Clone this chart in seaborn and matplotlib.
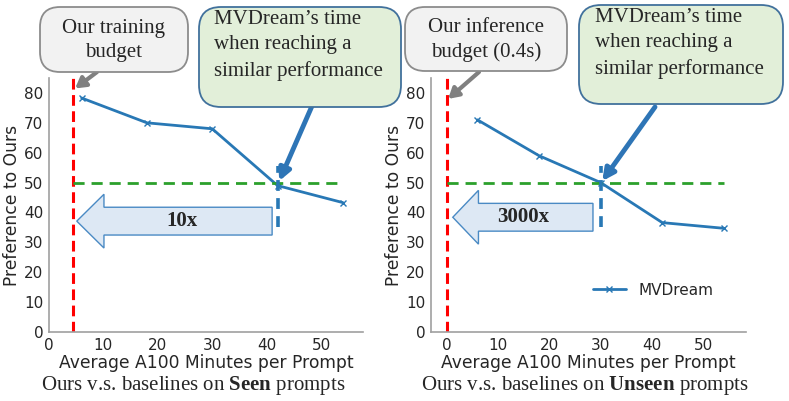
import matplotlib
matplotlib.use("Agg")
import matplotlib.pyplot as plt
import seaborn as sns
from matplotlib.patches import FancyBboxPatch, FancyArrow

# ------------------------------#
# Data
minutes = [6, 18, 30, 42, 54]
seen_pref = [78.3, 70.0, 68.0, 49.0, 43.3]
unseen_pref = [71.0, 59.0, 50.0, 36.6, 34.7]

panel_prefs = [seen_pref, unseen_pref]
budget_x = [4.5, 0.0]  # our training / inference budget (minutes)
match_x = [42, 30]  # where MVDream reaches ~50% preference
speedup = ["10x", "3000x"]
budget_text = ["Our training\nbudget", "Our inference\nbudget (0.4s)"]
mvdream_text = "MVDream\u2019s time\nwhen reaching a\nsimilar performance"
caption_bold = ["Seen", "Unseen"]
xlims = [(0, 57.7), (-3.1, 58.3)]
# ------------------------------#

sns.set_style("white")
plt.rcParams["font.family"] = ["DejaVu Sans"]
plt.rcParams["mathtext.fontset"] = "custom"
plt.rcParams["mathtext.rm"] = "Liberation Serif"
plt.rcParams["mathtext.bf"] = "Liberation Serif:bold"

W, H = 789, 401
fig = plt.figure(figsize=(W / 100, H / 100), dpi=100)

blue = "#2878b5"
serif = "Liberation Serif"


def px_box(x0, y0, x1, y1, fc, ec, r):
    # rounded callout box given in pixel coords (top-left origin)
    patch = FancyBboxPatch(
        (x0 / 100, (H - y1) / 100),
        (x1 - x0) / 100,
        (y1 - y0) / 100,
        boxstyle=f"round,pad=0,rounding_size={r / 100}",
        transform=fig.dpi_scale_trans,
        fc=fc,
        ec=ec,
        lw=1.3,
        zorder=5,
    )
    fig.add_artist(patch)


# axes placement in pixels: (left, right)
ax_px = [(49, 363), (430.7, 746)]
gray_boxes = [(40, 7, 188, 72), (405, 7, 567, 71)]
green_boxes = [(199, 7, 401, 107), (579, 5, 783, 104)]
green_text_xy = [(214, 10), (595, 8)]
gray_arrow_from = [(97, 72), (479, 72)]
gray_arrow_y = [81.5, 78.0]
blue_arrow_from = [(312, 106), (655, 107)]
arrow_geom = [  # tail x, tip x, y, label x
    (41.0, 5.1, 37.1, 24.5),
    (28.5, 1.2, 38.4, 14.9),
]
caption_x = [193, 585]

for i in range(2):
    left, right = ax_px[i]
    ax = fig.add_axes([left / W, (H - 332) / H, (right - left) / W, 254 / H])

    sns.lineplot(
        x=minutes,
        y=panel_prefs[i],
        ax=ax,
        color=blue,
        lw=2,
        marker="x",
        markersize=5,
        markeredgewidth=1,
        markeredgecolor=blue,
        label="MVDream",
        legend=False,
    )

    ax.axvline(budget_x[i], color="red", ls=(0, (3.5, 1.8)), lw=2.2, zorder=1)
    ax.hlines(50, budget_x[i], 54, color="#2ca02c", linestyles=(0, (4, 2.5)), lw=2)
    ax.vlines(match_x[i], 35, 55.5, color=blue, linestyles=(0, (3, 2)), lw=2.6)

    tail, tip, ay, lx = arrow_geom[i]
    arr = FancyArrow(
        tail,
        ay,
        tip - tail,
        0,
        width=9.3,
        head_width=18,
        head_length=5.0,
        length_includes_head=True,
        fc="#dde8f4",
        ec="#4a8ac4",
        lw=1,
        zorder=4,
    )
    ax.add_patch(arr)
    ax.text(lx, ay, speedup[i], ha="center", va="center", fontfamily=serif,
            fontweight="bold", fontsize=15, zorder=5)

    ax.set_xlim(*xlims[i])
    ax.set_ylim(0, 85)
    ax.set_xticks([0, 10, 20, 30, 40, 50])
    ax.set_yticks(range(0, 81, 10))
    ax.tick_params(labelsize=11, length=0, pad=4)
    ax.set_xlabel("Average A100 Minutes per Prompt", fontsize=12.3, labelpad=1)
    ax.set_ylabel("Preference to Ours", fontsize=12.3, labelpad=2)
    sns.despine(ax=ax)
    for s in ["left", "bottom"]:
        ax.spines[s].set_color("#a0a0a0")
        ax.spines[s].set_linewidth(1.2)

    if i == 1:
        ax.legend(loc="center left", bbox_to_anchor=(0.47, 0.165), frameon=False,
                  fontsize=11, handlelength=2.2)

    # callout boxes
    x0, y0, x1, y1 = gray_boxes[i]
    px_box(x0, y0, x1, y1, "#f2f2f2", "#8c8c8c", 20)
    fig.text((x0 + x1) / 2 / W, 1 - ((y0 + y1) / 2 + 1) / H, budget_text[i],
             ha="center", va="center", fontfamily=serif, fontsize=15,
             linespacing=1.35, zorder=6)
    x0, y0, x1, y1 = green_boxes[i]
    px_box(x0, y0, x1, y1, "#e2efd9", "#41719c", 22)
    tx, ty = green_text_xy[i]
    fig.text(tx / W, 1 - ty / H, mvdream_text, ha="left", va="top",
             fontfamily=serif, fontsize=15, linespacing=1.45, zorder=6)

    # pointer arrows
    gx, gy = gray_arrow_from[i]
    ax.annotate("", xy=(budget_x[i] + 0.3, gray_arrow_y[i]), xycoords="data",
                xytext=(gx, H - gy), textcoords="figure pixels",
                arrowprops=dict(arrowstyle="-|>,head_length=0.6,head_width=0.35",
                                color="#808080", lw=3, shrinkA=0, shrinkB=0),
                annotation_clip=False)
    bx, by = blue_arrow_from[i]
    ax.annotate("", xy=(match_x[i] + 0.3, 50.5), xycoords="data",
                xytext=(bx, H - by), textcoords="figure pixels",
                arrowprops=dict(arrowstyle="-|>,head_length=0.7,head_width=0.35",
                                color="#2e75b6", lw=3.5, shrinkA=0, shrinkB=0),
                annotation_clip=False)

    fig.text(caption_x[i] / W, 1 - 390 / H,
             "Ours v.s. baselines on $\\mathbf{" + caption_bold[i] + "}$ prompts",
             ha="center", va="baseline", fontfamily=serif, fontsize=15)

fig.savefig("out.png", dpi=100)
